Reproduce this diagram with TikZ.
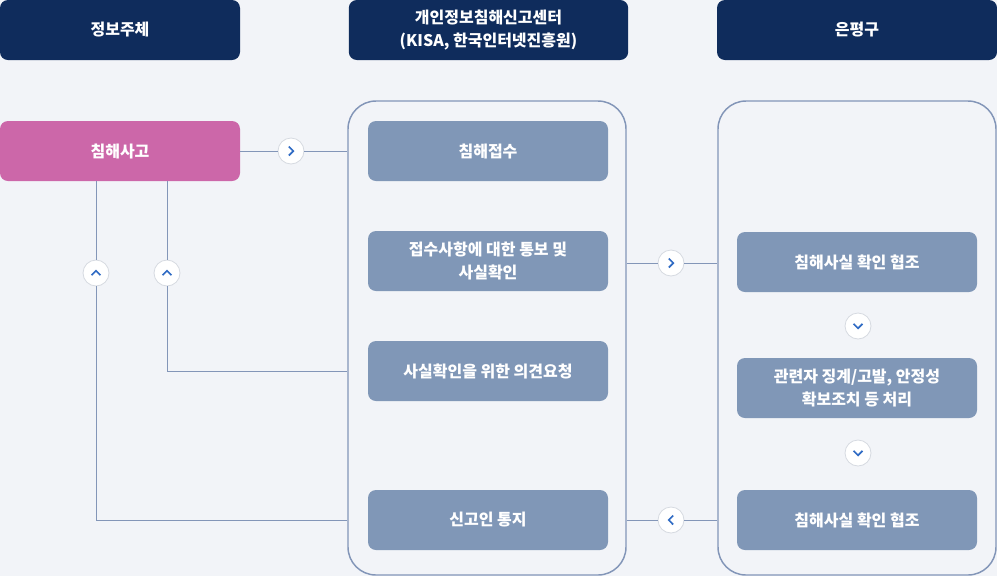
\documentclass[tikz,border=0pt]{standalone}
\usepackage{fontspec}
\setmainfont{Noto Sans CJK KR}
\usetikzlibrary{positioning,calc}
\definecolor{PageBg}{HTML}{F2F4F8}
\definecolor{HeadNavy}{HTML}{0F2C5C}
\definecolor{IncidentPink}{HTML}{CC67A9}
\definecolor{StepSlate}{HTML}{8097B7}
\definecolor{FrameSlate}{HTML}{8396B8}
\definecolor{RingGray}{HTML}{D6DAE1}
\definecolor{ChevBlue}{HTML}{2F6BC4}
\tikzset{
  chev/.style={circle,fill=white,draw=RingGray,line width=0.6pt,minimum size=19.5pt,inner sep=0pt,
    path picture={\draw[ChevBlue,line width=1.3pt]
      ($(path picture bounding box.center)+(#1+116:3.7pt)$) --
      ($(path picture bounding box.center)+(#1:1.7pt)$) --
      ($(path picture bounding box.center)+(#1-116:3.7pt)$);}}
}

\begin{document}
\begin{tikzpicture}[x=0.75pt,y=-0.75pt,
  txt/.style={text=white,font=\fontsize{12}{17}\selectfont\bfseries,align=center,inner sep=0pt},
  head/.style={txt,fill=HeadNavy,rounded corners=6pt,minimum height=45pt},
  stepbox/.style={txt,fill=StepSlate,rounded corners=6pt,minimum width=180pt,minimum height=45pt},
  frame/.style={draw=FrameSlate,line width=1.1pt,rounded corners=21pt,minimum width=208.5pt,minimum height=355.5pt},
  link/.style={draw=FrameSlate,line width=0.75pt}]
  \useasboundingbox (0,0) rectangle (997,576);
  \fill[PageBg] (0,0) rectangle (997,576);

  % column headers
  \node[head,minimum width=180pt]   (subject) at (120,30)   {정보주체};
  \node[head,minimum width=209.5pt] (kisa)    at (488.5,30) {개인정보침해신고센터\\(KISA, 한국인터넷진흥원)};
  \node[head,minimum width=210pt]   (gu)      at (857,30)   {은평구};

  % frames
  \node[frame] (mid)   at (487,338) {};
  \node[frame] (right) at (857,338) {};

  % steps
  \node[txt,fill=IncidentPink,rounded corners=6pt,minimum width=180pt,minimum height=45pt] (sago) at (120,151) {침해사고};
  \node[stepbox] (jeopsu)  at (488,151) {침해접수};
  \node[stepbox] (tongbo)  at (488,261) {접수사항에 대한 통보 및\\사실확인};
  \node[stepbox] (uigyeon) at (488,371) {사실확인을 위한 의견요청};
  \node[stepbox] (tongji)  at (488,520) {신고인 통지};
  \node[stepbox] (hyeopjo) at (857,262) {침해사실 확인 협조};
  \node[stepbox] (cheori)  at (857,388) {관련자 징계/고발, 안정성\\확보조치 등 처리};
  \node[stepbox] (hoesin)  at (857,520) {침해사실 확인 협조};

  % chevrons
  \node[chev=0]   (c1) at (291,151) {};
  \node[chev=0]   (c2) at (671,263) {};
  \node[chev=-90] (c3) at (858,326) {};
  \node[chev=-90] (c4) at (858,453) {};
  \node[chev=180] (c5) at (671,520) {};
  \node[chev=90]  (u1) at (96,273)  {};
  \node[chev=90]  (u2) at (167,273) {};

  % connectors
  \draw[link] (sago) -- (c1) -- (mid.west |- c1);
  \draw[link] (mid.east |- c2) -- (c2) -- (right.west |- c2);
  \draw[link] (mid.east |- c5) -- (c5) -- (right.west |- c5);
  \draw[link] (sago.south -| u1) -- (u1) -- (u1 |- tongji) -- (mid.west |- tongji);
  \draw[link] (sago.south -| u2) -- (u2) -- (u2 |- uigyeon) -- (mid.west |- uigyeon);
\end{tikzpicture}
\end{document}
